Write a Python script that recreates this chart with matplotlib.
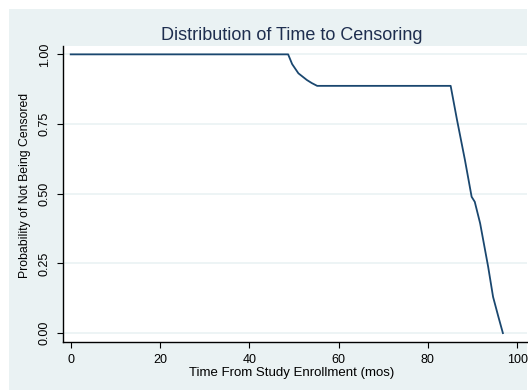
import matplotlib
matplotlib.use("Agg")
import matplotlib.pyplot as plt
from matplotlib.patches import Rectangle

plt.rcParams['font.family'] = ['Liberation Sans', 'DejaVu Sans']

# Survival (not censored) curve
time_mos = [0, 48.7, 49.6, 51.0, 52.9, 54.0, 55.2, 70.0, 85.1, 86.5, 88.3, 89.8,
            90.5, 91.7, 93.5, 94.6, 95.8, 96.8]
prob_not_censored = [1.0, 1.0, 0.965, 0.932, 0.908, 0.897, 0.887, 0.887, 0.887, 0.767,
                     0.621, 0.489, 0.471, 0.394, 0.238, 0.130, 0.058, 0.0]

x_ticks = [0, 20, 40, 60, 80, 100]
y_ticks = [0.0, 0.25, 0.5, 0.75, 1.0]
y_tick_labels = ["0.00", "0.25", "0.50", "0.75", "1.00"]

title = "Distribution of Time to Censoring"
x_label = "Time From Study Enrollment (mos)"
y_label = "Probability of Not Being Censored"

bg = "#eaf2f3"
line_col = "#1a476f"
title_col = "#1e2e4f"

fig = plt.figure(figsize=(5.28, 3.90), dpi=100)
fig.patch.set_facecolor("white")
fig.patches.append(Rectangle((9/528, 0), (527-9)/528, (390-9)/390,
                             transform=fig.transFigure, facecolor=bg,
                             edgecolor="none", zorder=-10))

ax = fig.add_axes([62.7/528, (390-342.3)/390, (527-62.7)/528, (342.3-46)/390])
ax.set_facecolor("white")
ax.plot(time_mos, prob_not_censored, color=line_col, lw=1.3)

ax.set_xlim(-1.79, 102.2)
ax.set_ylim(-0.033, 1.030)
ax.set_xticks(x_ticks)
ax.set_xticklabels([str(v) for v in x_ticks])
ax.set_yticks(y_ticks)
ax.set_yticklabels(y_tick_labels, rotation=90, va="center")
ax.tick_params(axis="x", labelsize=9, length=4.5, width=0.8, pad=4)
ax.tick_params(axis="y", labelsize=9, length=4.5, width=0.8, pad=4)
for s in ["top", "right"]:
    ax.spines[s].set_visible(False)
for s in ["left", "bottom"]:
    ax.spines[s].set_linewidth(1.0)
ax.yaxis.grid(True, color=bg, lw=1.2)
ax.set_axisbelow(True)

ax.set_xlabel(x_label, fontsize=9.5, labelpad=1)
ax.xaxis.set_label_coords(0.492, -0.085)
ax.set_ylabel(y_label, fontsize=8.8, labelpad=3)
ax.yaxis.set_label_coords(-0.068, 0.53)
ax.set_title(title, fontsize=13, color=title_col, x=0.493, pad=4)

fig.savefig("out.png", dpi=100, facecolor=fig.get_facecolor())
